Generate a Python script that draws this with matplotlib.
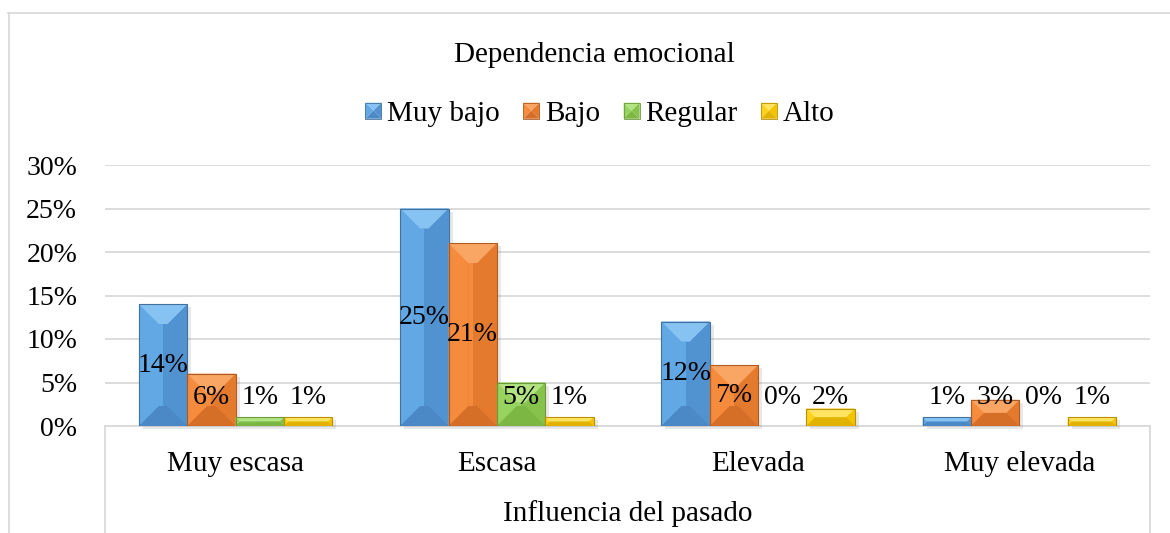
import numpy as np
import matplotlib
matplotlib.use("Agg")
import matplotlib.pyplot as plt
from matplotlib.patches import Polygon, Rectangle
from matplotlib.legend_handler import HandlerBase
from matplotlib.lines import Line2D

categories = ["Muy escasa", "Escasa", "Elevada", "Muy elevada"]
series = ["Muy bajo", "Bajo", "Regular", "Alto"]
muy_bajo = [14, 25, 12, 1]
bajo = [6, 21, 7, 3]
regular = [1, 5, 0, 0]
alto = [1, 1, 2, 1]
values = [muy_bajo, bajo, regular, alto]
yticks = [0, 5, 10, 15, 20, 25, 30]

# base, left, right, top, bottom, edge
palette = [
    ("#5b9bd5", "#62a8e5", "#5192d1", "#86c2f2", "#4a88c6", "#41719c"),
    ("#ed7d31", "#f58b3d", "#e37a2d", "#f9a563", "#d56e27", "#ae5a21"),
    ("#8cc850", "#97d45f", "#86c24c", "#b3e484", "#7cb744", "#6a9a3b"),
    ("#ffc800", "#ffd11a", "#f3c200", "#ffe463", "#e2b200", "#b89000"),
]

plt.rcParams['font.family'] = ['Liberation Serif', 'DejaVu Serif']
FS = 20
FS_BIG = 21

W, H = 1170, 533
fig = plt.figure(figsize=(W / 100, H / 100), dpi=100)
ax = fig.add_axes([105 / W, 1 - 426 / H, (1150 - 105) / W, (426 - 165) / H])
ax.set_xlim(-0.5, 3.5)
ax.set_ylim(0, 30)

# pixel scale of the data units
p0, p1 = ax.transData.transform([[0, 0], [1, 1]])
sx, sy = p1 - p0


def bevel(ax, patch, cols):
    x0, w, h = patch.get_x(), patch.get_width(), patch.get_height()
    if h <= 0:
        return
    d = min(20, w * sx / 2, h * sy / 2)
    dx, dy = d / sx, d / sy
    bl, br, tr, tl = (x0, 0), (x0 + w, 0), (x0 + w, h), (x0, h)
    itl, itr = (x0 + dx, h - dy), (x0 + w - dx, h - dy)
    ibl, ibr = (x0 + dx, dy), (x0 + w - dx, dy)
    xm = x0 + w / 2
    faces = [
        ([tl, (xm, h), (xm, h - dy), itl, ibl, bl], cols[1]),
        ([(xm, h), tr, br, ibr, itr, (xm, h - dy)], cols[2]),
        ([tl, tr, itr, itl], cols[3]),
        ([bl, br, ibr, ibl], cols[4]),
        ([itl, (xm, h - dy), (xm, dy), ibl], cols[1]),
        ([(xm, h - dy), itr, ibr, (xm, dy)], cols[2]),
    ]
    for pts, c in faces:
        ax.add_patch(Polygon(pts, closed=True, facecolor=c, edgecolor='none', zorder=4))
    ax.add_patch(Rectangle((x0, 0), w, h, facecolor='none', edgecolor=cols[5], lw=0.8, zorder=5))
    # soft shadow
    ax.add_patch(Rectangle((x0 + 4 / sx, -3 / sy), w, h, facecolor='#808080', alpha=0.18,
                           edgecolor='none', zorder=2, clip_on=False))


x = np.arange(len(categories))
width = 0.185
offsets = (np.arange(len(series)) - 1.5) * width

for i, vals in enumerate(values):
    bars = ax.bar(x + offsets[i], vals, width, color=palette[i][0], zorder=3)
    for p, v in zip(bars.patches, vals):
        bevel(ax, p, palette[i])
        ax.text(p.get_x() + p.get_width() / 2, max(v / 2, 3.3), f"{v}%",
                ha='center', va='center', fontsize=FS, zorder=6)

ax.set_yticks(yticks)
ax.set_yticklabels([f"{v}%" for v in yticks], fontsize=FS)
ax.set_xticks(x)
ax.set_xticklabels(categories, fontsize=FS_BIG)
ax.tick_params(axis='y', length=0, pad=20)
ax.tick_params(axis='x', length=0, pad=18)
ax.yaxis.grid(True, color='#d9d9d9', lw=1.3)
ax.set_axisbelow(True)
for s in ['top', 'right', 'left']:
    ax.spines[s].set_visible(False)
ax.spines['bottom'].set_color('#d9d9d9')
ax.spines['bottom'].set_linewidth(1.3)
ax.spines['bottom'].set_zorder(1)

# category box lines and outer frame
y_axis = 1 - 426 / H
for xp in (105 / W, 1150 / W):
    fig.add_artist(Line2D([xp, xp], [0, y_axis], color='#d9d9d9', lw=1.3))
fig.add_artist(Line2D([8.5 / W, 8.5 / W], [0, 1 - 13 / H], color='#d9d9d9', lw=1.3))
fig.add_artist(Line2D([8 / W, 1], [1 - 13 / H, 1 - 13 / H], color='#d9d9d9', lw=1.3))

fig.text(594 / W, 1 - 55 / H, "Dependencia emocional", ha='center', va='center', fontsize=FS_BIG)
fig.text(628 / W, 1 - 514 / H, "Influencia del pasado", ha='center', va='center', fontsize=FS_BIG)


class BevelHandler(HandlerBase):
    def __init__(self, cols):
        super().__init__()
        self.cols = cols

    def create_artists(self, legend, orig_handle, xdescent, ydescent, width, height, fontsize, trans):
        s = min(width, height)
        x0, y0 = -xdescent + (width - s) / 2, -ydescent + (height - s) / 2
        c = (x0 + s / 2, y0 + s / 2)
        bl, br, tr, tl = (x0, y0), (x0 + s, y0), (x0 + s, y0 + s), (x0, y0 + s)
        tris = [([tl, tr, c], self.cols[3]), ([tl, c, bl], self.cols[1]),
                ([tr, br, c], self.cols[2]), ([bl, br, c], self.cols[4])]
        arts = [Polygon(p, closed=True, facecolor=col, edgecolor='none', transform=trans)
                for p, col in tris]
        arts.append(Rectangle((x0, y0), s, s, facecolor='none', edgecolor=self.cols[5],
                              lw=0.6, transform=trans))
        return arts


handles = [Rectangle((0, 0), 1, 1, color=palette[i][0]) for i in range(len(series))]
hmap = {h: BevelHandler(palette[i]) for i, h in enumerate(handles)}
fig.legend(handles, series, loc='center', bbox_to_anchor=(600 / W, 1 - 114 / H), ncol=4,
           frameon=False, fontsize=FS_BIG, handlelength=0.55, handleheight=0.55,
           handletextpad=0.2, columnspacing=0.8, handler_map=hmap)

fig.savefig("out.png", dpi=100)
